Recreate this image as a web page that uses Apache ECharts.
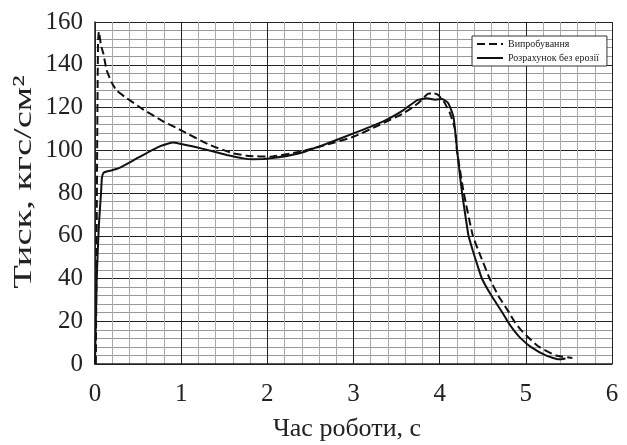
<!DOCTYPE html>
<html>
<head>
<meta charset="utf-8">
<script src="https://cdn.jsdelivr.net/npm/echarts@6/dist/echarts.min.js"></script>
<style>
html,body{margin:0;padding:0;background:#fff;}
#chart{width:627px;height:445px;}
</style>
</head>
<body>
<div id="chart"></div>
<script>
// Випробування (test, dashed)
var testX = [0.01, 0.025, 0.035, 0.045, 0.07, 0.096, 0.135, 0.19, 0.25, 0.37, 0.54, 0.77, 0.99, 1.33, 1.6, 1.8, 2.03, 2.375, 2.68, 3.0, 3.3, 3.58, 3.75, 3.86, 3.92, 3.98, 4.05, 4.12, 4.18, 4.2, 4.28, 4.385, 4.46, 4.58, 4.68, 4.807, 4.865, 4.942, 5.04, 5.155, 5.35, 5.54];
var testY = [0, 100, 150, 155.5, 149, 145.4, 137.5, 132, 128, 124.3, 119.6, 114, 109.5, 102.5, 98.6, 97.3, 97, 99.3, 102.5, 106.3, 111.8, 117.3, 122, 126.3, 126.8, 126, 122.7, 117.3, 109.5, 100, 80, 60, 52, 40, 32, 24, 20, 16, 12, 8, 4, 2.8];
// Розрахунок без ерозії (calculation, solid)
var calcX = [0, 0.02, 0.045, 0.07, 0.08, 0.1, 0.17, 0.27, 0.5, 0.75, 0.9, 1.0, 1.22, 1.53, 1.72, 1.83, 2.03, 2.375, 2.68, 3.0, 3.34, 3.58, 3.74, 3.85, 3.95, 4.03, 4.1, 4.16, 4.2, 4.23, 4.26, 4.3, 4.335, 4.385, 4.44, 4.49, 4.6, 4.729, 4.787, 4.857, 4.942, 5.058, 5.232, 5.387, 5.46];
var calcY = [0, 40, 65, 80, 87, 89.5, 90.4, 91.5, 96.5, 101.8, 103.6, 102.9, 101, 97.8, 96.2, 95.8, 96.2, 98.6, 102.9, 107.9, 113.4, 118.8, 123.5, 124.3, 123.6, 124, 122, 115.7, 101, 90, 80, 69, 60, 53, 46, 40, 32, 24, 20, 16, 12, 8, 4, 2.2, 2.6];

var seriesNames = ['Випробування', 'Розрахунок без ерозії'];
var xTicks = [0, 1, 2, 3, 4, 5, 6];
var yTicks = [0, 20, 40, 60, 80, 100, 120, 140, 160];
var xTitle = 'Час роботи, с';
var yTitle = 'Тиск, кгс/см²';

function pairs(xs, ys) { return xs.map(function (x, i) { return [x, ys[i]]; }); }

var FONT = '"Liberation Serif", "Times New Roman", serif';
var chart = echarts.init(document.getElementById('chart'), null, {renderer: 'canvas'});
chart.setOption({
  animation: false,
  backgroundColor: '#fff',
  grid: {left: 95, right: 15, top: 22, bottom: 81, containLabel: false},
  xAxis: {
    type: 'value', min: xTicks[0], max: xTicks[xTicks.length - 1], interval: 1,
    axisLine: {show: true, lineStyle: {color: '#222', width: 1.5}},
    axisTick: {show: false},
    axisLabel: {fontFamily: FONT, fontSize: 25, color: '#222', margin: 18},
    splitLine: {show: true, lineStyle: {color: '#222', width: 1}},
    minorTick: {show: false, splitNumber: 5},
    minorSplitLine: {show: true, lineStyle: {color: '#aaa', width: 1}}
  },
  yAxis: {
    type: 'value', min: yTicks[0], max: yTicks[yTicks.length - 1], interval: 20,
    axisLine: {show: true, lineStyle: {color: '#222', width: 1.5}},
    axisTick: {show: false},
    axisLabel: {fontFamily: FONT, fontSize: 25, color: '#222', margin: 12},
    splitLine: {show: true, lineStyle: {color: '#222', width: 1}},
    minorTick: {show: false, splitNumber: 5},
    minorSplitLine: {show: true, lineStyle: {color: '#999', width: 1}}
  },
  legend: {
    orient: 'vertical', left: 472, top: 36,
    padding: [3, 8, 3, 4], itemGap: 4, itemWidth: 26, itemHeight: 12,
    backgroundColor: '#fff', borderColor: '#333', borderWidth: 1,
    itemStyle: {opacity: 0, borderWidth: 0},
    textStyle: {fontFamily: FONT, fontSize: 10, color: '#222'},
    data: seriesNames
  },
  graphic: [
    {type: 'text', x: 24, y: 182, rotation: Math.PI / 2, scaleX: 1.48,
     style: {text: yTitle, font: '26px ' + FONT, fill: '#222', textAlign: 'center', textVerticalAlign: 'middle'}},
    {type: 'text', x: 347, y: 429,
     style: {text: xTitle, font: '26px ' + FONT, fill: '#222', textAlign: 'center', textVerticalAlign: 'middle'}}
  ],
  series: [
    {name: seriesNames[0], type: 'line', data: pairs(testX, testY), symbol: 'none', smooth: 0.15,
     lineStyle: {color: '#111', width: 2, type: [8, 4]}, itemStyle: {color: '#111'}, z: 3},
    {name: seriesNames[1], type: 'line', data: pairs(calcX, calcY), symbol: 'none', smooth: 0.15,
     lineStyle: {color: '#111', width: 2, type: 'solid'}, itemStyle: {color: '#111'}, z: 4}
  ]
});
</script>
</body>
</html>
